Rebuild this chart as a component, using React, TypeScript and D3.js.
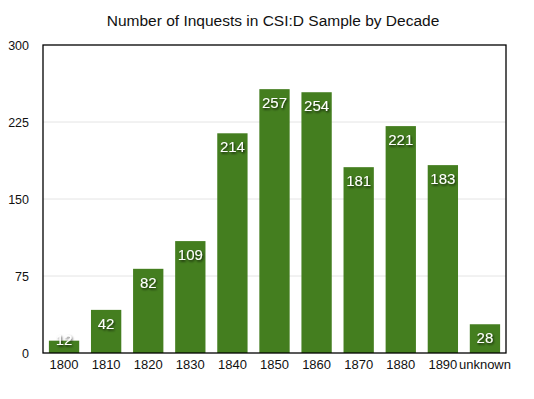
import { useEffect, useRef } from "react";
import * as d3 from "d3";

const decades = ["1800", "1810", "1820", "1830", "1840", "1850", "1860", "1870", "1880", "1890", "unknown"];
const inquests = [12, 42, 82, 109, 214, 257, 254, 181, 221, 183, 28];
const yTicks = [0, 75, 150, 225, 300];

const App = () => {
  const ref = useRef<SVGSVGElement>(null);

  useEffect(() => {
    draw();
  }, []);

  const draw = () => {
    const width = 534;
    const height = 399;
    const margin = { top: 45, right: 28, bottom: 46, left: 43 };
    const barColor = "#447e1f";
    const font = "Liberation Sans, Arial, sans-serif";

    const svg = d3.select(ref.current).attr("width", width).attr("height", height);
    svg.selectAll("*").remove();

    // text shadow for the value labels
    const defs = svg.append("defs");
    defs
      .append("filter")
      .attr("id", "shadow")
      .attr("x", "-20%")
      .attr("y", "-20%")
      .attr("width", "140%")
      .attr("height", "150%")
      .append("feDropShadow")
      .attr("dx", 1)
      .attr("dy", 1.5)
      .attr("stdDeviation", 0.8)
      .attr("flood-color", "#000")
      .attr("flood-opacity", 0.75);

    const xScale = d3
      .scaleBand()
      .domain(decades)
      .range([margin.left, width - margin.right])
      .paddingInner(0.28)
      .paddingOuter(0.14);

    const yScale = d3
      .scaleLinear()
      .domain([0, 300])
      .range([height - margin.bottom, margin.top]);

    // gridlines
    svg
      .append("g")
      .selectAll("line")
      .data(yTicks.slice(1, -1))
      .join("line")
      .attr("x1", margin.left)
      .attr("x2", width - margin.right)
      .attr("y1", (d) => yScale(d))
      .attr("y2", (d) => yScale(d))
      .attr("stroke", "#e4e4e4")
      .attr("stroke-width", 1);

    // y axis labels
    svg
      .append("g")
      .attr("transform", `translate(${margin.left},0)`)
      .call(d3.axisLeft(yScale).tickValues(yTicks).tickSize(0).tickPadding(14))
      .call((g: any) => g.select(".domain").remove())
      .call((g: any) => g.selectAll("text").attr("font-size", 12.5).attr("fill", "#111").attr("font-family", font));

    // x axis labels
    svg
      .append("g")
      .attr("transform", `translate(0,${height - margin.bottom})`)
      .call(d3.axisBottom(xScale).tickSize(0).tickPadding(7))
      .call((g: any) => g.select(".domain").remove())
      .call((g: any) => g.selectAll("text").attr("font-size", 13).attr("fill", "#111").attr("font-family", font));

    // bars
    svg
      .append("g")
      .selectAll("rect")
      .data(inquests)
      .join("rect")
      .attr("x", (d, i) => xScale(decades[i])!)
      .attr("width", xScale.bandwidth())
      .attr("y", (d) => yScale(d))
      .attr("height", (d) => yScale(0) - yScale(d))
      .attr("fill", barColor);

    // value labels
    svg
      .append("g")
      .selectAll("text")
      .data(inquests)
      .join("text")
      .attr("x", (d, i) => xScale(decades[i])! + xScale.bandwidth() / 2)
      .attr("y", (d) => Math.min(yScale(d) + 19, yScale(0) - 8))
      .attr("text-anchor", "middle")
      .attr("font-size", 15)
      .attr("font-family", font)
      .attr("fill", "#fff")
      .attr("filter", "url(#shadow)")
      .text((d) => d);

    // frame
    svg
      .append("rect")
      .attr("x", margin.left)
      .attr("y", margin.top)
      .attr("width", width - margin.left - margin.right)
      .attr("height", height - margin.top - margin.bottom)
      .attr("fill", "none")
      .attr("stroke", "#000")
      .attr("stroke-width", 1.3);

    // title
    svg
      .append("text")
      .attr("x", 273)
      .attr("y", 26)
      .attr("text-anchor", "middle")
      .attr("font-size", 15.5)
      .attr("font-family", font)
      .attr("fill", "#111")
      .text("Number of Inquests in CSI:D Sample by Decade");
  };

  return (
    <div style={{ position: "absolute", left: 0, top: 0 }}>
      <svg ref={ref}></svg>
    </div>
  );
};

export default App;
